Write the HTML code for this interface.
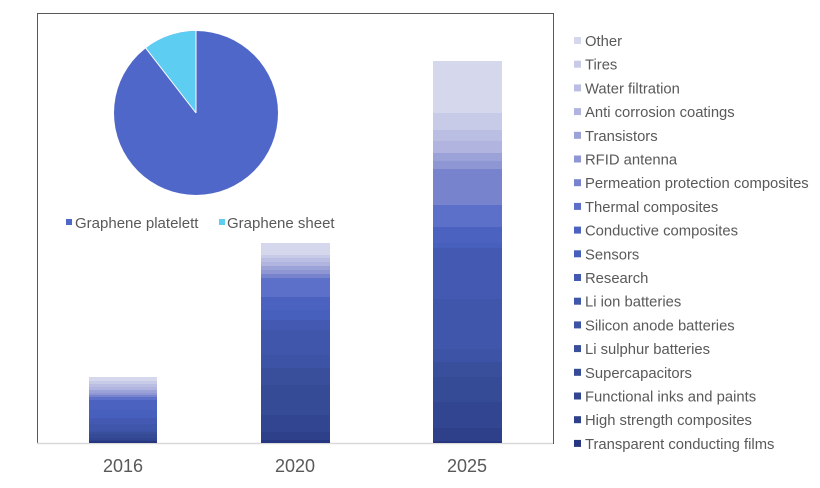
<!DOCTYPE html>
<html><head><meta charset="utf-8"><style>
html,body{margin:0;padding:0;background:#fff;}
svg text{font-family:"Liberation Sans",Arial,sans-serif;}
</style></head><body>
<svg id="s" width="820" height="483" viewBox="0 0 820 483" xmlns="http://www.w3.org/2000/svg">
<rect x="0" y="0" width="820" height="483" fill="#fff"/>
<rect x="37.5" y="13.5" width="516" height="430" fill="none" stroke="#595959" stroke-width="1"/>
<line x1="37" y1="443.5" x2="553" y2="443.5" stroke="#d9d9d9" stroke-width="1.5"/>
<g id="bars"></g>
<circle cx="196" cy="113" r="82" fill="#4f67c8"/>
<path d="M196,113 L196,31 A82,82 0 0,0 145.8,48.2 Z" fill="#5ecdf2"/>
<line x1="196" y1="113" x2="196" y2="31" stroke="#fff" stroke-width="1"/>
<line x1="196" y1="113" x2="145.8" y2="48.2" stroke="#fff" stroke-width="1"/>
<rect x="66" y="219" width="6" height="6" fill="#4f67c8"/>
<text x="75" y="228" font-size="15" fill="#595959">Graphene platelett</text>
<rect x="219" y="219" width="6" height="6" fill="#5ecdf2"/>
<text x="227" y="228" font-size="15" fill="#595959">Graphene sheet</text>
<g font-size="18" fill="#595959" text-anchor="middle">
<text x="123" y="472">2016</text>
<text x="295" y="472">2020</text>
<text x="467" y="472">2025</text>
</g>
<g id="leg" font-size="14.8" fill="#595959">
<text x="585" y="46">Other</text>
<text x="585" y="69.7">Tires</text>
<text x="585" y="93.4">Water filtration</text>
<text x="585" y="117.1">Anti corrosion coatings</text>
<text x="585" y="140.8">Transistors</text>
<text x="585" y="164.5">RFID antenna</text>
<text x="585" y="188.2">Permeation protection composites</text>
<text x="585" y="211.9">Thermal composites</text>
<text x="585" y="235.6">Conductive composites</text>
<text x="585" y="259.3">Sensors</text>
<text x="585" y="283">Research</text>
<text x="585" y="306.7">Li ion batteries</text>
<text x="585" y="330.4">Silicon anode batteries</text>
<text x="585" y="354.1">Li sulphur batteries</text>
<text x="585" y="377.8">Supercapacitors</text>
<text x="585" y="401.5">Functional inks and paints</text>
<text x="585" y="425.2">High strength composites</text>
<text x="585" y="448.9">Transparent conducting films</text>
</g>
</svg>
<script>
var C=["#d5d7ec","#c8cbe7","#babee2","#b0b4df","#9ba2d8","#8e97d3","#7883cd","#5c6fc9","#4b62c1","#4760bd","#4459b2","#4056ab","#3d53a5","#3a4f9c","#364b95","#324590","#2e408a","#263680"];
var B=[[433,69,[61,113,130,141,153,161,169,205,227,243,248,299,349,362,377,402,428,441,443]],
[261,69,[243,255,258,262,266,270,274,278,297,310,320,330,355,368,385,415,432,440,443]],
[89,68,[377,381,384,387,390,393,395,397,400,410,418,424,430,432,434,438,440,441,443]]];
var g=document.getElementById('bars'),h='';
B.forEach(function(b){for(var i=0;i<18;i++){h+='<rect x="'+b[0]+'" y="'+b[2][i]+'" width="'+b[1]+'" height="'+(b[2][i+1]-b[2][i])+'" fill="'+C[i]+'"/>';}});
g.innerHTML=h;
var l='',y0=37;
for(var i=0;i<18;i++){l+='<rect x="574" y="'+(y0+i*23.7)+'" width="7" height="7" fill="'+C[i]+'"/>';}
document.getElementById('leg').insertAdjacentHTML('beforeend',l);
</script>
</body></html>
